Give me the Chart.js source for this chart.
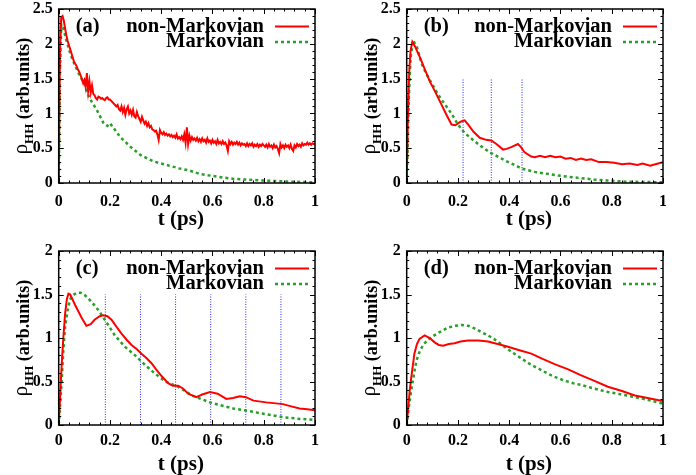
<!DOCTYPE html>
<html>
<head>
<meta charset="utf-8">
<script src="https://cdn.jsdelivr.net/npm/chart.js@4.4.0/dist/chart.umd.min.js"></script>
<style>
  html, body { margin: 0; padding: 0; background: #fff; }
  #wrap { position: relative; width: 696px; height: 475px; }
  .panel { position: absolute; width: 348px; }
</style>
</head>
<body>
<div id="wrap">
  <div class="panel" style="left:0;top:0;height:237px"><canvas id="pa"></canvas></div>
  <div class="panel" style="left:348px;top:0;height:237px"><canvas id="pb"></canvas></div>
  <div class="panel" style="left:0;top:237px;height:238px"><canvas id="pc"></canvas></div>
  <div class="panel" style="left:348px;top:237px;height:238px"><canvas id="pd"></canvas></div>
</div>
<script>
// ---- data (t in ps, rho_HH in arb. units) ----

// (a) non-Markovian, noisy, sampled every 0.005 ps
const tA = [0,0.005,0.01,0.015,0.02,0.025,0.03,0.035,0.04,0.045,0.05,0.055,0.06,0.065,0.07,0.075,0.08,0.085,0.09,0.095,
  0.1,0.105,0.11,0.115,0.12,0.125,0.13,0.135,0.14,0.145,0.15,0.155,0.16,0.165,0.17,0.175,0.18,0.185,0.19,0.195,
  0.2,0.205,0.21,0.215,0.22,0.225,0.23,0.235,0.24,0.245,0.25,0.255,0.26,0.265,0.27,0.275,0.28,0.285,0.29,0.295,
  0.3,0.305,0.31,0.315,0.32,0.325,0.33,0.335,0.34,0.345,0.35,0.355,0.36,0.365,0.37,0.375,0.38,0.385,0.39,0.395,
  0.4,0.405,0.41,0.415,0.42,0.425,0.43,0.435,0.44,0.445,0.45,0.455,0.46,0.465,0.47,0.475,0.48,0.485,0.49,0.495,
  0.5,0.505,0.51,0.515,0.52,0.525,0.53,0.535,0.54,0.545,0.55,0.555,0.56,0.565,0.57,0.575,0.58,0.585,0.59,0.595,
  0.6,0.605,0.61,0.615,0.62,0.625,0.63,0.635,0.64,0.645,0.65,0.655,0.66,0.665,0.67,0.675,0.68,0.685,0.69,0.695,
  0.7,0.705,0.71,0.715,0.72,0.725,0.73,0.735,0.74,0.745,0.75,0.755,0.76,0.765,0.77,0.775,0.78,0.785,0.79,0.795,
  0.8,0.805,0.81,0.815,0.82,0.825,0.83,0.835,0.84,0.845,0.85,0.855,0.86,0.865,0.87,0.875,0.88,0.885,0.89,0.895,
  0.9,0.905,0.91,0.915,0.92,0.925,0.93,0.935,0.94,0.945,0.95,0.955,0.96,0.965,0.97,0.975,0.98,0.985,0.99,0.995,1.0];
const nonMarkA = [0,1.9,2.38,2.40,2.33,2.22,2.12,2.04,1.98,1.92,1.86,1.80,1.74,1.71,1.68,1.63,1.60,1.55,1.50,1.44,
  1.48,1.38,1.58,1.32,1.46,1.30,1.40,1.28,1.26,1.22,1.20,1.24,1.23,1.21,1.22,1.20,1.19,1.22,1.23,1.20,
  1.20,1.18,1.16,1.14,1.12,1.10,1.12,1.06,1.04,1.10,1.02,1.08,0.98,1.06,1.10,1.00,1.04,0.98,1.05,0.96,
  0.94,1.02,0.96,0.92,0.88,0.95,0.90,0.85,0.88,0.82,0.86,0.80,0.82,0.77,0.76,0.74,0.75,0.70,0.62,0.76,
  0.72,0.70,0.73,0.69,0.71,0.68,0.70,0.67,0.69,0.66,0.68,0.65,0.70,0.64,0.66,0.63,0.67,0.62,0.70,0.58,
  0.80,0.56,0.68,0.61,0.66,0.62,0.64,0.61,0.65,0.60,0.63,0.59,0.64,0.60,0.62,0.58,0.64,0.59,0.61,0.57,
  0.62,0.58,0.60,0.56,0.62,0.57,0.59,0.56,0.60,0.56,0.58,0.54,0.46,0.60,0.56,0.59,0.55,0.58,0.56,0.59,
  0.55,0.58,0.54,0.57,0.55,0.56,0.53,0.57,0.53,0.56,0.54,0.57,0.52,0.55,0.53,0.56,0.52,0.55,0.53,0.56,
  0.54,0.52,0.55,0.51,0.56,0.52,0.54,0.50,0.55,0.51,0.53,0.49,0.43,0.56,0.51,0.54,0.50,0.55,0.52,0.54,
  0.50,0.55,0.49,0.46,0.54,0.51,0.56,0.53,0.55,0.52,0.57,0.54,0.56,0.55,0.58,0.55,0.57,0.55,0.57,0.56,0.56];
const tMarkA = [0,0.005,0.01,0.02,0.03,0.045,0.06,0.08,0.1,0.12,0.15,0.175,0.19,0.2,0.22,
  0.24,0.28,0.32,0.37,0.42,0.47,0.51,0.55,0.62,0.68,0.75,0.8,0.9,1.0];
const markA = [0,1.6,2.28,2.2,2.05,1.86,1.72,1.56,1.42,1.22,1.04,0.86,0.82,0.86,0.76,
  0.66,0.52,0.40,0.31,0.26,0.21,0.18,0.13,0.09,0.06,0.045,0.035,0.02,0.01];

// (b)
const tNonB = [0,0.005,0.01,0.015,0.022,0.03,0.05,0.07,0.09,0.11,0.13,0.155,0.175,0.19,0.21,
  0.226,0.24,0.26,0.285,0.31,0.33,0.35,0.376,0.39,0.41,0.434,0.445,0.46,0.486,0.5,
  0.52,0.54,0.56,0.58,0.6,0.62,0.64,0.66,0.68,0.7,0.72,0.75,0.78,0.81,0.84,0.87,
  0.9,0.92,0.95,0.97,1.0];
const nonMarkB = [0,1.0,1.6,1.9,2.03,1.98,1.82,1.64,1.46,1.32,1.17,0.98,0.84,0.83,0.88,
  0.90,0.84,0.74,0.65,0.62,0.61,0.56,0.48,0.49,0.52,0.56,0.52,0.44,0.38,0.37,
  0.39,0.37,0.39,0.37,0.38,0.35,0.36,0.33,0.35,0.33,0.34,0.30,0.30,0.29,0.27,0.28,
  0.26,0.28,0.25,0.27,0.30];
const tMarkB = [0,0.008,0.015,0.025,0.04,0.057,0.075,0.096,0.115,0.135,0.155,0.174,0.2,0.226,
  0.265,0.3,0.33,0.38,0.42,0.447,0.5,0.577,0.63,0.68,0.73,0.785,0.85,0.92,1.0];
const markB = [0,1.2,1.8,2.05,1.95,1.73,1.58,1.44,1.32,1.2,1.1,1.0,0.84,0.72,
  0.6,0.5,0.43,0.33,0.26,0.21,0.16,0.115,0.09,0.07,0.05,0.035,0.02,0.015,0.01];
const vlinesB = [0.22, 0.33, 0.45];

// (c)
const tNonC = [0,0.006,0.012,0.018,0.025,0.032,0.038,0.045,0.064,0.09,0.108,0.125,0.14,0.16,
  0.174,0.19,0.206,0.225,0.245,0.265,0.284,0.305,0.323,0.342,0.362,0.38,0.402,0.427,
  0.445,0.466,0.485,0.505,0.537,0.56,0.59,0.62,0.654,0.68,0.707,0.73,0.76,0.81,0.875,
  0.9,0.94,0.97,1.0];
const nonMarkC = [0,0.35,0.71,1.0,1.28,1.45,1.51,1.50,1.38,1.23,1.14,1.16,1.21,1.25,
  1.26,1.25,1.21,1.13,1.05,0.98,0.92,0.87,0.82,0.77,0.71,0.64,0.56,0.48,
  0.45,0.45,0.42,0.36,0.32,0.35,0.38,0.36,0.30,0.31,0.33,0.32,0.28,0.26,0.24,
  0.22,0.19,0.18,0.17];
const tMarkC = [0,0.006,0.012,0.018,0.025,0.035,0.044,0.055,0.07,0.085,0.103,0.127,0.155,0.18,
  0.219,0.258,0.298,0.337,0.376,0.416,0.466,0.52,0.59,0.681,0.76,0.875,0.94,1.0];
const markC = [0,0.25,0.52,0.85,1.13,1.32,1.44,1.49,1.52,1.52,1.49,1.42,1.32,1.21,
  1.03,0.90,0.80,0.69,0.59,0.50,0.44,0.34,0.26,0.19,0.15,0.09,0.07,0.06];
const vlinesC = [0.182, 0.319, 0.456, 0.593, 0.73, 0.867];

// (d)
const tNonD = [0,0.006,0.012,0.018,0.03,0.04,0.05,0.07,0.09,0.109,0.125,0.142,0.165,0.187,
  0.21,0.239,0.28,0.317,0.355,0.395,0.44,0.486,0.53,0.577,0.63,0.681,0.73,0.785,
  0.84,0.89,0.94,0.993,1.0];
const nonMarkD = [0,0.2,0.4,0.55,0.82,0.93,0.99,1.03,1.00,0.95,0.92,0.91,0.93,0.94,
  0.96,0.97,0.97,0.96,0.93,0.90,0.86,0.82,0.76,0.70,0.64,0.57,0.51,0.44,
  0.39,0.34,0.31,0.28,0.28];
const tMarkD = [0,0.01,0.018,0.028,0.038,0.05,0.064,0.08,0.096,0.13,0.161,0.19,0.213,0.24,
  0.265,0.29,0.317,0.34,0.368,0.39,0.42,0.45,0.486,0.52,0.551,0.58,0.616,0.65,
  0.681,0.73,0.785,0.84,0.89,0.94,0.993,1.0];
const markD = [0,0.24,0.40,0.58,0.74,0.84,0.92,0.97,1.01,1.07,1.12,1.14,1.15,1.14,
  1.11,1.07,1.03,0.99,0.93,0.88,0.82,0.76,0.69,0.64,0.59,0.55,0.51,0.48,
  0.46,0.42,0.38,0.35,0.32,0.29,0.25,0.25];

const vlineTop = 1.5;
const seriesNames = ['non-Markovian', 'Markovian'];

// ---- styling ----
const RED = 'rgb(255,0,0)';
const GREEN = 'rgb(40,160,40)';
const BLUE = 'rgb(40,40,255)';
const SERIF = '"Liberation Serif", "Times New Roman", serif';

Chart.defaults.font.family = SERIF;
Chart.defaults.font.weight = 'bold';
Chart.defaults.font.size = 16;
Chart.defaults.color = '#000';

function pts(t, v) {
  return t.map((x, i) => ({ x: x, y: v[i] }));
}

function fmt(v) {
  return String(+Number(v).toFixed(2));
}

// frame, inward ticks, titles, in-plot legend and panel letter
function decoPlugin(label, yMax, titleY) {
  return {
    id: 'deco',
    afterDraw(chart) {
      const { ctx, chartArea: a, scales } = chart;
      const x = scales.x, y = scales.y;
      ctx.save();
      ctx.strokeStyle = '#000';
      ctx.lineWidth = 1;
      ctx.beginPath();
      for (let i = 0; i <= 25; i++) {
        const px = Math.round(x.getPixelForValue(i * 0.04)) + 0.5;
        const len = i % 5 === 0 ? 5 : 2.5;
        ctx.moveTo(px, a.bottom); ctx.lineTo(px, a.bottom - len);
        ctx.moveTo(px, a.top); ctx.lineTo(px, a.top + len);
      }
      for (let i = 0; i <= Math.round(yMax * 10); i++) {
        const py = Math.round(y.getPixelForValue(i * 0.1)) + 0.5;
        const len = i % 5 === 0 ? 5 : 2.5;
        ctx.moveTo(a.left, py); ctx.lineTo(a.left + len, py);
        ctx.moveTo(a.right, py); ctx.lineTo(a.right - len, py);
      }
      ctx.stroke();
      ctx.lineWidth = 1.5;
      ctx.strokeRect(a.left, a.top, a.right - a.left, a.bottom - a.top);

      // legend
      ctx.fillStyle = '#000';
      ctx.font = 'bold 20.5px ' + SERIF;
      ctx.textBaseline = 'middle';
      ctx.textAlign = 'right';
      const r1 = a.top + 17.5, r2 = a.top + 33;
      ctx.fillText(seriesNames[0], a.right - 51, r1);
      ctx.fillText(seriesNames[1], a.right - 51, r2);
      ctx.lineWidth = 2;
      ctx.strokeStyle = RED;
      ctx.beginPath(); ctx.moveTo(a.right - 40, r1); ctx.lineTo(a.right - 6, r1); ctx.stroke();
      ctx.lineWidth = 2.5;
      ctx.strokeStyle = GREEN;
      ctx.setLineDash([3, 3]);
      ctx.beginPath(); ctx.moveTo(a.right - 40, r2); ctx.lineTo(a.right - 6, r2); ctx.stroke();
      ctx.setLineDash([]);

      // panel letter
      ctx.textAlign = 'left';
      ctx.fillText(label, a.left + 17, r1);

      // x title
      ctx.textAlign = 'center';
      ctx.font = 'bold 21px ' + SERIF;
      ctx.fillText('t (ps)', (a.left + a.right) / 2 - 6, titleY);

      // y title with subscript
      ctx.translate(23, (a.top + a.bottom) / 2);
      ctx.rotate(-Math.PI / 2);
      ctx.textAlign = 'left';
      ctx.textBaseline = 'alphabetic';
      const fBig = 'bold 18px ' + SERIF, fRho = '21px ' + SERIF, fSub = 'bold 13px ' + SERIF;
      ctx.font = fRho; const w1 = ctx.measureText('\u03C1').width;
      ctx.font = fSub; const w2 = ctx.measureText('HH').width;
      ctx.font = fBig; const w3 = ctx.measureText(' (arb.units)').width;
      let x0 = -(w1 + w2 + w3) / 2;
      ctx.font = fRho; ctx.fillText('\u03C1', x0, 4); x0 += w1;
      ctx.font = fSub; ctx.fillText('HH', x0, 10); x0 += w2;
      ctx.font = fBig; ctx.fillText(' (arb.units)', x0, 6);
      ctx.restore();
    }
  };
}

function makePanel(id, label, yMax, row, nonT, nonV, markT, markV, vlines) {
  const datasets = [
    { data: pts(nonT, nonV), borderColor: RED, borderWidth: 2 },
    { data: pts(markT, markV), borderColor: GREEN, borderWidth: 2.5, borderDash: [3, 3] }
  ];
  (vlines || []).forEach(t => {
    datasets.push({
      data: [{ x: t, y: 0 }, { x: t, y: vlineTop }],
      borderColor: BLUE, borderWidth: 1, borderDash: [1, 1.5]
    });
  });
  const top = row === 0 ? 9 : 14;
  const xH = row === 0 ? 54 : 50;
  new Chart(document.getElementById(id), {
    type: 'line',
    data: { datasets: datasets },
    options: {
      responsive: true,
      maintainAspectRatio: false,
      animation: false,
      layout: { padding: { top: top, right: 33, bottom: 0, left: 0 } },
      elements: { point: { radius: 0 }, line: { tension: 0, borderCapStyle: 'butt' } },
      plugins: { legend: { display: false }, tooltip: { enabled: false } },
      scales: {
        x: {
          type: 'linear', min: 0, max: 1,
          grid: { display: false, drawTicks: false, tickLength: 0 }, border: { display: false },
          ticks: { stepSize: 0.2, padding: row === 0 ? 9 : 6, maxRotation: 0, autoSkip: false, callback: fmt },
          afterFit: s => { s.height = xH; s.paddingLeft = 0; s.paddingRight = 0; }
        },
        y: {
          min: 0, max: yMax,
          grid: { display: false, drawTicks: false, tickLength: 0 }, border: { display: false },
          ticks: { stepSize: 0.5, padding: 6, autoSkip: false, callback: fmt },
          afterFit: s => { s.width = 58.7; s.paddingTop = 0; s.paddingBottom = 0; }
        }
      }
    },
    plugins: [decoPlugin(label, yMax, row === 0 ? 220 : 228)]
  });
}

makePanel('pa', '(a)', 2.5, 0, tA, nonMarkA, tMarkA, markA, null);
makePanel('pb', '(b)', 2.5, 0, tNonB, nonMarkB, tMarkB, markB, vlinesB);
makePanel('pc', '(c)', 2, 1, tNonC, nonMarkC, tMarkC, markC, vlinesC);
makePanel('pd', '(d)', 2, 1, tNonD, nonMarkD, tMarkD, markD, null);
</script>
</body>
</html>
